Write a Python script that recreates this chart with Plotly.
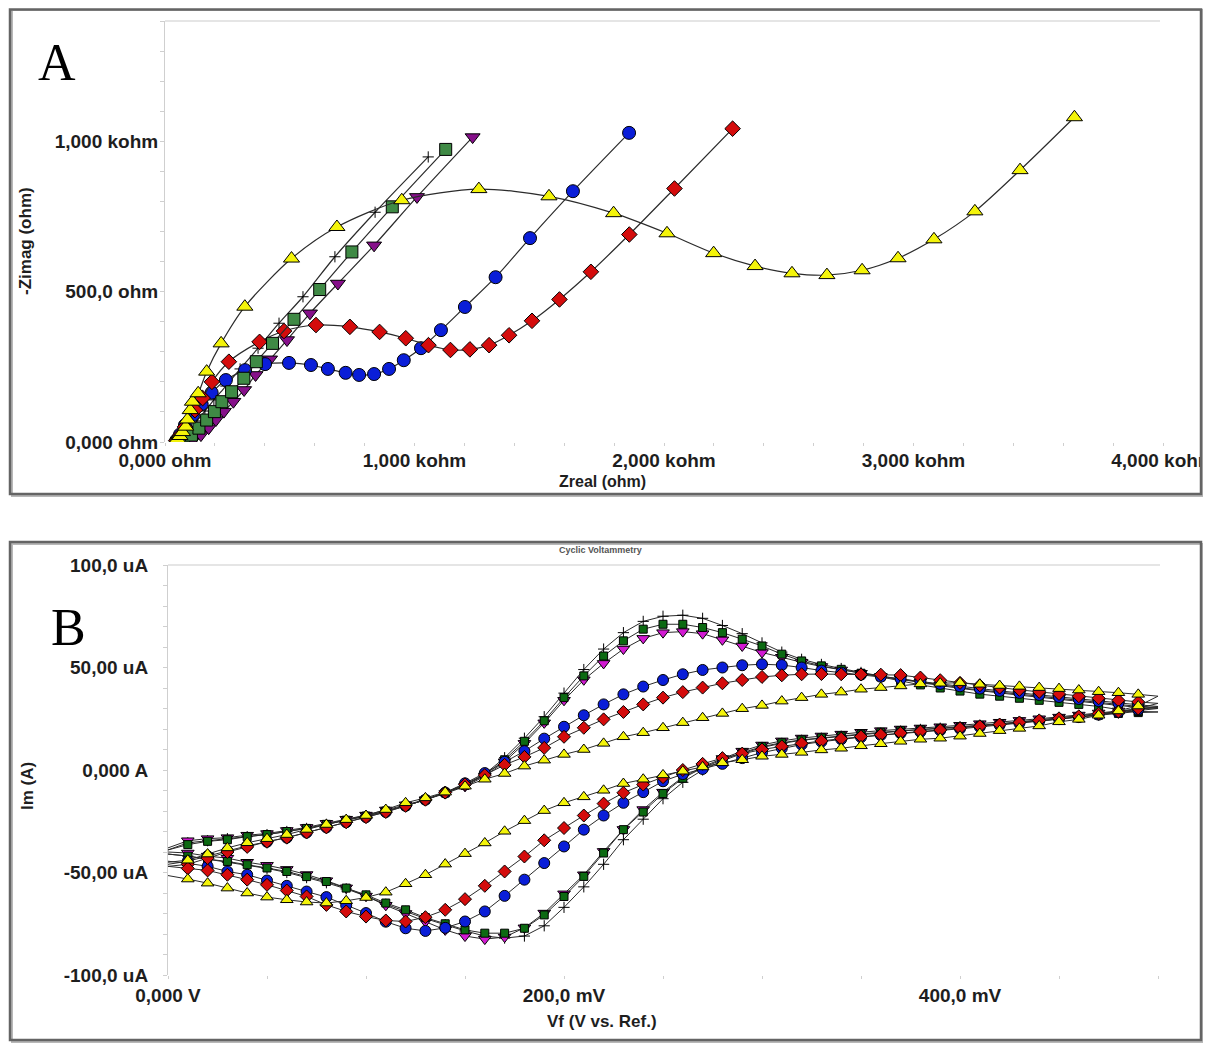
import plotly.graph_objects as go

W, H = 1211, 1046
OFF = 8  # page body margin of the html output

# ---------------- Panel A : Nyquist data (ohm) ----------------
yellow_zre = [40, 50, 60, 70, 83, 90, 101, 110, 133, 167, 225, 320, 507, 689, 949, 1258, 1539, 1798, 2012, 2199, 2365, 2513, 2653, 2794, 2938, 3082, 3246, 3427, 3645]
yellow_zim = [3, 10, 20, 33, 51, 75, 106, 134, 162, 234, 328, 450, 610, 715, 804, 841, 817, 761, 694, 628, 585, 561, 555, 571, 611, 674, 767, 904, 1080]

blue_zre = [45, 60, 80, 112, 147, 187, 244, 321, 401, 497, 585, 653, 724, 778, 838, 898, 957, 1026, 1106, 1202, 1325, 1463, 1635, 1860]
blue_zim = [5, 25, 56, 90, 126, 164, 206, 239, 259, 263, 256, 243, 230, 223, 226, 243, 272, 312, 372, 449, 548, 678, 834, 1028]

red_zre = [45, 60, 80, 120, 151, 188, 256, 379, 477, 605, 741, 860, 965, 1056, 1144, 1222, 1299, 1379, 1471, 1581, 1707, 1861, 2042, 2275]
red_zim = [5, 22, 50, 106, 146, 200, 267, 333, 369, 389, 383, 366, 345, 322, 306, 308, 322, 355, 403, 474, 566, 690, 843, 1042]

green_zre = [55, 75, 106, 136, 167, 198, 228, 267, 316, 366, 431, 517, 620, 749, 911, 1125]
green_zim = [0, 7, 23, 46, 73, 101, 134, 167, 212, 267, 328, 408, 507, 632, 782, 973]

purple_zre = [85, 112, 144, 175, 204, 236, 274, 317, 363, 421, 489, 581, 693, 838, 1010, 1233]
purple_zim = [0, 7, 23, 46, 73, 101, 134, 173, 223, 275, 339, 428, 527, 654, 815, 1014]

cross_zre = [50, 72, 100, 128, 160, 196, 244, 301, 373, 457, 553, 681, 842, 1055]
cross_zim = [2, 13, 40, 70, 103, 140, 186, 243, 312, 395, 483, 616, 764, 948]

A_xticks = [0, 1000, 2000, 3000, 4000]
A_xtext = ["0,000 ohm", "1,000 kohm", "2,000 kohm", "3,000 kohm", "4,000 kohm"]
A_yticks = [0, 500, 1000]
A_ytext = ["0,000 ohm", "500,0 ohm", "1,000 kohm"]

# ---------------- Panel B : cyclic voltammetry (mV, uA) ----------------
fwd_mv = list(range(0, 510, 10))          # 0 ... 500 mV
rev_mv = list(range(490, -10, -10))       # 490 ... 0 mV

yellow_fwd = [-45, -44, -41, -38, -35.5, -33.5, -31.5, -29, -26.6, -24.2, -22.2, -19.3, -16, -13.6, -10.8, -7.9, -4.5, -1.7, 1.9, 4.8, 7.6,
              10, 13, 16.2, 18.2, 20.6, 23.1, 25.5, 27.6, 29.9, 31.5, 33.6, 35.3, 36.9, 38, 39.4, 40.2, 41, 42, 42.3, 42.6,
              41.8, 41.2, 40.8, 40.2, 39.7, 39, 38.2, 37.7, 36.9, 36]
yellow_rev = [31.2, 28.8, 26.7, 24.7, 23.5, 21.5, 20.3, 19.2, 17.8, 16.5, 15.5, 15, 14, 12.8, 11.8, 10.6, 9.8, 8.6, 7.6, 6.7,
              5, 3.5, 1.5, -0.6, -2.4, -4.5, -6.6, -9.9, -13.1, -16, -19.8, -24.7, -29.9, -35.6, -40.8, -45.9, -51.1, -55.5, -59.6, -62.2,
              -63.8, -64.9, -64.4, -63.3, -62, -60, -57.6, -55.2, -53.2, -51.5]

red_fwd = [-47, -46, -43, -40, -37.5, -35, -33, -30.5, -28, -25.5, -23, -20.5, -17.5, -14.5, -11, -7, -2.5, 2.5, 6.4, 10.8, 16.2,
           20.6, 24.7, 28.3, 32, 35.3, 38, 40.2, 42.3, 43.9, 45.4, 46.2, 46.7, 46.8, 46.7, 46.6, 46.5, 46.3, 45.1, 43.8, 42.5,
           41.3, 40.2, 39.1, 38.1, 37.1, 36, 35, 34, 33.2, 32.5]
red_rev = [30, 28.5, 27.5, 26.2, 25.2, 24.2, 23.2, 22.2, 21.3, 20.4, 19.5, 18.8, 18, 17.2, 16.3, 15.3, 14.2, 13, 11.5, 10,
           8, 5.8, 3, 0, -3.5, -7.1, -11.1, -16.4, -22.2, -28.3, -34.3, -42.2, -49.5, -56.5, -63, -68.2, -71.8, -73.9, -73.4, -71.5,
           -69, -65.8, -61.7, -58.8, -56, -53.5, -51.1, -49, -48, -47]

blue_fwd = [-46, -44.5, -42, -39.5, -37, -35, -33, -30.5, -28, -25.5, -23, -20.5, -17.5, -14.5, -11, -6.5, -1.5, 4, 9.2, 15.3, 21.1,
            26.7, 32, 36.9, 40.7, 43.9, 46.7, 48.8, 50, 51.1, 51.6, 51.2, 50, 48.5, 47.5, 46.5, 45.5, 44.5, 43.2, 42, 40.8,
            39.7, 38.6, 37.6, 36.6, 35.6, 34.6, 33.6, 32.6, 31.8, 31]
blue_rev = [29.5, 28.2, 27, 25.8, 24.8, 23.8, 22.8, 21.9, 21, 20.1, 19.3, 18.6, 17.9, 17, 16, 15, 13.8, 12.4, 10.6, 8.5,
            5.8, 3, 0.5, -2, -5.5, -10.8, -16, -22.2, -29.1, -37.3, -45.4, -53.5, -61.4, -69, -73.9, -77, -78.5, -77.2, -74, -69.8,
            -66, -62, -59.3, -56.5, -53.9, -51.1, -49.5, -47, -45.5, -44.5]

green_fwd = [-39, -36.4, -34.8, -34, -32.5, -31.5, -30, -28.5, -26.5, -24.5, -22.5, -20, -17.5, -14.5, -11.2, -7.5, -2.5, 5, 14, 24, 35.3,
             45.9, 55.6, 63, 68.7, 71.1, 71.1, 69.5, 67, 63.8, 60.5, 56.5, 53.2, 50.8, 49.1, 47.2, 45.4, 43.5, 41.5, 40, 38.5,
             37, 36, 35, 34, 33, 32, 31, 29.5, 28, 28.3]
green_rev = [28.6, 27.6, 26.7, 25.5, 24.7, 23.9, 23.1, 22.2, 21.6, 20.8, 20.2, 19.7, 19.2, 18.4, 17.5, 16.6, 15.7, 14.7, 13.3, 11.4,
             8.4, 5.1, 1, -4, -11.5, -20.5, -29.1, -40.5, -51.9, -61.7, -70.7, -77.2, -79.6, -79.6, -78, -75, -72, -68.2, -64.9, -60.9,
             -57.6, -54.4, -52, -49.5, -47.8, -46.2, -44.6, -43.5, -42, -41]

purple_fwd = [-38, -34.5, -33.5, -33, -31.8, -31, -29.5, -28, -26, -24, -22, -19.5, -17, -14.5, -11.5, -8, -3, 4, 13, 23, 34,
              44, 52, 59, 64.2, 67, 67.5, 66.5, 63.5, 60.5, 57.3, 55, 52.5, 50.5, 48.8, 47.2, 45.7, 44.5, 43, 41.5, 40.2,
              39, 38, 37, 36, 35, 34, 33, 32, 31, 30.5]
purple_rev = [29.8, 28.8, 27.8, 26.8, 25.8, 25, 24.2, 23.3, 22.6, 21.8, 21.1, 20.5, 20, 19.2, 18.4, 17.5, 16.6, 15.6, 14.2, 12.2,
              9.2, 5.6, 1.5, -3.5, -10.8, -19.3, -29, -39.7, -51.1, -60.4, -69.8, -77, -81.5, -82.5, -81, -78, -74, -70, -66, -61.5,
              -57.5, -54, -51, -48.5, -46.5, -45, -43, -42, -40.5, -40]

cross_fwd = [-39, -35.5, -34.5, -33.5, -32.5, -31.5, -30, -28.5, -26.5, -24.5, -22.5, -20, -17.5, -14.5, -11, -7, -2, 6, 15.5, 26, 37.5,
             49, 59, 67, 72.5, 75, 75.5, 74, 70.5, 66.5, 62, 57.5, 54, 51.5, 49.5, 47.6, 45.8, 44.2, 42.6, 41.2, 39.8,
             38.6, 37.5, 36.5, 35.5, 34.5, 33.5, 32.5, 31.5, 30.5, 30]
cross_rev = [29, 27.8, 26.8, 25.8, 25, 24, 23.3, 22.5, 21.8, 21, 20.4, 19.8, 19, 18, 17.2, 16.5, 15.5, 14.5, 13, 11,
             8, 4.5, 0, -6, -14, -24, -34, -46, -57, -67, -76, -81, -82, -81, -78.5, -75.5, -72.5, -69, -65.5, -61.5,
             -58, -55, -52.5, -50, -48, -46.5, -45, -43.5, -42, -41]

B_xticks = [0, 0.2, 0.4]
B_xtext = ["0,000 V", "200,0 mV", "400,0 mV"]
B_yticks = [-100, -50, 0, 50, 100]
B_ytext = ["-100,0 uA", "-50,00 uA", "0,000 A", "50,00 uA", "100,0 uA"]


def px(x):
    return (x - OFF) / W


def py(y):
    return 1 - (y - OFF) / H


LINE_COL = "#2b2b2b"
fig = go.Figure()

# ---- Panel A traces
A_series = [
    (cross_zre, cross_zim, "cross-thin", 8, "#000000"),
    (purple_zre, purple_zim, "triangle-down", 13, "#86108a"),
    (blue_zre, blue_zim, "circle", 13, "#0a1ed8"),
    (red_zre, red_zim, "diamond", 12, "#d40c0c"),
    (green_zre, green_zim, "square", 12, "#3f8a45"),
    (yellow_zre, yellow_zim, "triangle-up", 14, "#f4f40a"),
]
for xs, ys, sym, size, col in A_series:
    fig.add_trace(go.Scatter(
        x=xs, y=ys, mode="lines+markers", xaxis="x", yaxis="y",
        line=dict(color=LINE_COL, width=1.2, shape="spline", smoothing=0.8),
        marker=dict(symbol=sym, size=size, color=col,
                    line=dict(color="#000000", width=1)),
        hoverinfo="skip"))

# ---- Panel B traces
volts = [v / 1000 for v in fwd_mv + rev_mv]
B_series = [
    (cross_fwd, cross_rev, "cross-thin", 8, "#000000"),
    (purple_fwd, purple_rev, "triangle-down", 11, "#d21ad2"),
    (green_fwd, green_rev, "square", 8, "#0c6a12"),
    (blue_fwd, blue_rev, "circle", 11, "#0a1ed8"),
    (red_fwd, red_rev, "diamond", 10, "#d40c0c"),
    (yellow_fwd, yellow_rev, "triangle-up", 11, "#f4f40a"),
]
n_f = len(fwd_mv)
n_r = len(rev_mv)
opac = [0] + [1] * (n_f - 2) + [0] + [1] * (n_r - 1) + [0]
for fw, rv, sym, size, col in B_series:
    fig.add_trace(go.Scatter(
        x=volts, y=fw + rv, mode="lines+markers", xaxis="x2", yaxis="y2",
        line=dict(color=LINE_COL, width=1),
        marker=dict(symbol=sym, size=size, color=col, opacity=opac,
                    line=dict(color="#000000", width=1)),
        hoverinfo="skip"))

tickfont = dict(family="Liberation Sans", size=19, color="#1e1e1e", weight="bold")
AXC = "#cfcfcf"

fig.update_layout(
    width=W, height=H, margin=dict(l=0, r=0, t=0, b=0, autoexpand=False),
    paper_bgcolor="white", plot_bgcolor="white", showlegend=False,
    xaxis=dict(domain=[px(165), px(1163)], range=[0, 4000], anchor="y", automargin=False,
               tickmode="array", tickvals=A_xticks, ticktext=A_xtext,
               showgrid=False, zeroline=False, showline=False,
               ticks="outside", ticklen=3, tickcolor=AXC, ticklabelstandoff=-2,
               minor=dict(dtick=200, tick0=0, ticks="outside", ticklen=3, tickcolor=AXC, showgrid=False),
               tickfont=tickfont),
    yaxis=dict(domain=[py(442), py(21)], range=[0, 1400], anchor="x", automargin=False,
               tickmode="array", tickvals=A_yticks, ticktext=A_ytext,
               showgrid=False, zeroline=False, showline=True, linecolor=AXC, linewidth=1,
               ticks="outside", ticklen=4, tickcolor=AXC, ticklabelstandoff=-2,
               minor=dict(dtick=100, tick0=0, ticks="outside", ticklen=4, tickcolor=AXC, showgrid=False),
               tickfont=tickfont),
    xaxis2=dict(domain=[px(168), px(1160)], range=[0, 0.501], anchor="y2", automargin=False,
                tickmode="array", tickvals=B_xticks, ticktext=B_xtext,
                showgrid=False, zeroline=False, showline=False,
                ticks="outside", ticklen=3, tickcolor=AXC, ticklabelstandoff=0,
                minor=dict(dtick=0.05, tick0=0, ticks="outside", ticklen=3, tickcolor=AXC, showgrid=False),
                tickfont=tickfont),
    yaxis2=dict(domain=[py(975), py(565)], range=[-100, 100], anchor="x2", automargin=False,
                tickmode="array", tickvals=B_yticks, ticktext=B_ytext,
                showgrid=False, zeroline=False, showline=True, linecolor=AXC, linewidth=1,
                ticks="outside", ticklen=4, tickcolor=AXC, ticklabelstandoff=11,
                minor=dict(dtick=10, tick0=0, ticks="outside", ticklen=4, tickcolor=AXC, showgrid=False),
                tickfont=tickfont),
)

shapes = []
# white clip right of frame A (truncates "4,000 kohm" as in the source)
shapes.append(dict(type="rect", xref="paper", yref="paper", x0=px(1202), x1=1, y0=py(500), y1=1,
                   fillcolor="white", line=dict(width=0), layer="above"))
# top light lines of plot areas
shapes.append(dict(type="line", xref="paper", yref="paper", x0=px(165), x1=px(1160), y0=py(21), y1=py(21),
                   line=dict(color="#dddddd", width=1.5), layer="below"))
shapes.append(dict(type="line", xref="paper", yref="paper", x0=px(168), x1=px(1160), y0=py(565), y1=py(565),
                   line=dict(color="#dddddd", width=1.5), layer="below"))
# frames with soft shadows
for (x0, y0, x1, y1) in [(10, 5, 1201, 494), (10, 542, 1201, 1040)]:
    shapes.append(dict(type="rect", xref="paper", yref="paper", x0=px(x0 + 2), x1=px(x1 + 2), y0=py(y1 + 2), y1=py(max(y0 + 2, 10)),
                       line=dict(color="#b8b8b8", width=2), layer="above"))
    shapes.append(dict(type="rect", xref="paper", yref="paper", x0=px(x0), x1=px(x1), y0=py(y1), y1=py(max(y0, 9.5)),
                       line=dict(color="#646464", width=2.5), layer="above"))
fig.update_layout(shapes=shapes)

title_font = dict(family="Liberation Sans", size=17, color="#1e1e1e", weight="bold")
zreal_font = dict(family="Liberation Sans", size=16, color="#1e1e1e", weight="bold")
ann = [
    dict(text="A", x=px(57), y=py(63), font=dict(family="Liberation Serif", size=52, color="#000000")),
    dict(text="B", x=px(68), y=py(627), font=dict(family="Liberation Serif", size=52, color="#000000")),
    dict(text="-Zimag (ohm)", x=px(25), y=py(241), textangle=-90, font=title_font),
    dict(text="Zreal (ohm)", x=px(602), y=py(482), font=zreal_font),
    dict(text="Im (A)", x=px(27), y=py(786), textangle=-90, font=title_font),
    dict(text="Vf (V vs. Ref.)", x=px(602), y=py(1021), font=title_font),
    dict(text="Cyclic Voltammetry", x=px(600), y=py(550),
         font=dict(family="Liberation Sans", size=9, color="#555555", weight="bold")),
]
for a in ann:
    a.update(xref="paper", yref="paper", showarrow=False, xanchor="center", yanchor="middle")
fig.update_layout(annotations=ann)

fig.write_html("out.html")
